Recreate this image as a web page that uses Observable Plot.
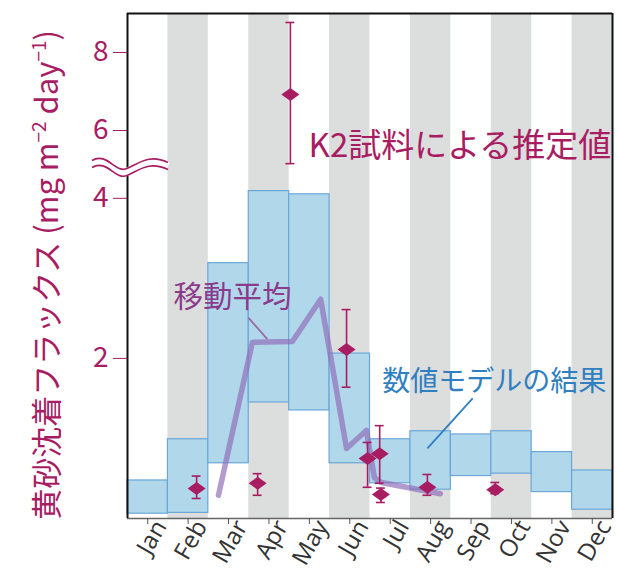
<!DOCTYPE html>
<html><head><meta charset="utf-8">
<script src="https://cdn.jsdelivr.net/npm/d3@7"></script>
<script src="https://cdn.jsdelivr.net/npm/@observablehq/plot@0.6"></script>
<style>body{margin:0;background:#fff;} #chart svg{display:block}</style>
</head><body><div id="chart"></div>
<script>
const months = ["Jan","Feb","Mar","Apr","May","Jun","Jul","Aug","Sep","Oct","Nov","Dec"];
const modelLow  = [0.06, 0.07, 0.69, 1.45, 1.35, 0.69, 0.44, 0.36, 0.53, 0.56, 0.33, 0.11];
const modelHigh = [0.475, 0.99, 3.19, 4.09, 4.05, 2.06, 0.99, 1.09, 1.05, 1.09, 0.83, 0.60];
const maX = [2.25, 3.09, 4.08, 4.78, 5.42, 5.91, 6.11, 6.28, 7.32, 7.74];
const maY = [0.29, 2.20, 2.21, 2.74, 0.875, 1.10, 0.51, 0.45, 0.35, 0.31];
const k2X  = [1.71, 3.22, 4.03, 5.42, 5.94, 6.24, 6.27, 7.42, 9.10];
const k2Y  = [0.375, 0.44, 6.92, 2.11, 0.75, 0.81, 0.30, 0.39, 0.36];
const k2Lo = [0.25, 0.29, 5.15, 1.64, 0.39, 0.44, 0.20, 0.29, 0.31];
const k2Hi = [0.53, 0.56, 8.77, 2.61, 0.95, 1.16, 0.38, 0.55, 0.45];
const yTicks = [2, 4, 6, 8];
const yLabel = "黄砂沈着フラックス";
const labels = [
  {text: "K2試料による推定値", x: 4.48, y: 5.59, color: "#a81c62", size: 33},
  {text: "移動平均", x: 1.14, y: 2.76, color: "#8b3a8c", size: 29.5},
  {text: "数値モデルの結果", x: 6.3, y: 1.71, color: "#2f7fc1", size: 28}
];
const leaders = [
  {x1: 2.99, y1: 2.51, x2: 3.46, y2: 2.24, color: "#9a6aa8"},
  {x1: 8.54, y1: 1.50, x2: 7.42, y2: 0.875, color: "#2f7fc1"}
];

const crimson = "#a81c62";
const monthIdx = months.map((m, i) => i);
const boxes = monthIdx.map(i => ({i, lo: modelLow[i], hi: modelHigh[i]}));
const stripes = monthIdx.filter(i => i % 2 === 1);
const ma = maX.map((x, i) => ({x, y: maY[i]}));
const k2 = k2X.map((x, i) => ({x, y: k2Y[i], lo: k2Lo[i], hi: k2Hi[i]}));
const centers = monthIdx.map(i => i + 0.5);
const capW = 0.11;

const wideDiamond = {draw(ctx) { const w = 9, h = 6.5; ctx.moveTo(-w, 0); ctx.lineTo(0, -h); ctx.lineTo(w, 0); ctx.lineTo(0, h); ctx.closePath(); }};

const plot = Plot.plot({
  width: 617, height: 571,
  marginLeft: 127, marginRight: 5, marginTop: 13, marginBottom: 53,
  style: {fontFamily: "'Noto Sans CJK JP', 'Noto Sans', sans-serif", background: "#fff"},
  x: {type: "linear", domain: [0, 12], axis: null},
  y: {type: "linear", domain: [0, 4.36, 5, 9], range: [518, 169, 169, 13], axis: null},
  marks: [
    Plot.rect(stripes, {x1: d => d, x2: d => d + 1, y1: 0, y2: 9, fill: "#dcdddd"}),
    Plot.rect(boxes, {x1: d => d.i, x2: d => d.i + 1, y1: "lo", y2: "hi", fill: "#b0d8ea", stroke: "#6ca6d9", strokeWidth: 1.2}),
    Plot.line(ma, {x: "x", y: "y", stroke: "#8f6bb8", strokeOpacity: 0.68, strokeWidth: 5.5}),
    Plot.ruleX(k2, {x: "x", y1: "lo", y2: "hi", stroke: crimson, strokeWidth: 1.6}),
    Plot.ruleY(k2, {y: "hi", x1: d => d.x - capW, x2: d => d.x + capW, stroke: crimson, strokeWidth: 1.6}),
    Plot.ruleY(k2, {y: "lo", x1: d => d.x - capW, x2: d => d.x + capW, stroke: crimson, strokeWidth: 1.6}),
    Plot.dot(k2, {x: "x", y: "y", symbol: wideDiamond, fill: crimson, stroke: "none"}),
    Plot.link(leaders, {x1: "x1", y1: "y1", x2: "x2", y2: "y2", stroke: d => d.color, strokeWidth: 1.8}),
    Plot.text(labels, {x: "x", y: "y", text: "text", fill: d => d.color, fontSize: d => d.size, textAnchor: "start", lineAnchor: "middle"}),
    Plot.ruleY([0], {stroke: "#666", strokeWidth: 1.5}),
    Plot.ruleY([9], {stroke: "#111", strokeWidth: 2}),
    Plot.ruleX([0], {stroke: "#111", strokeWidth: 2}),
    Plot.ruleX([12], {stroke: "#111", strokeWidth: 2}),
    Plot.axisY(yTicks, {anchor: "left", tickSize: 14, tickPadding: 5, fontSize: 28, color: crimson, tickFormat: d => String(d), label: null}),
    Plot.axisX(centers, {anchor: "bottom", tickSize: 6, stroke: "#555", tickFormat: () => "", label: null}),
    Plot.axisX(centers, {anchor: "bottom", tickSize: 0, tickRotate: -60, tickPadding: 4, dx: 13, fontSize: 24, fill: "#333", tickFormat: d => months[Math.floor(d)], label: null, fontFamily: "'Open Sans', 'Noto Sans', sans-serif"})
  ]
});

document.getElementById("chart").append(plot);

// axis break symbol and y-axis title
const svg = d3.select(plot);
const ys = plot.scale("y");
const xs = plot.scale("x");
const yb = ys.apply(4.7);
const xa = xs.apply(0);
const wave = `M${xa - 35},${yb - 5} C${xa - 20},${yb - 14} ${xa - 12},${yb + 8} ${xa},${yb + 3} S${xa + 22},${yb - 12} ${xa + 41},${yb - 3}`;
svg.append("path").attr("d", wave).attr("fill", "none").attr("stroke", "#fff").attr("stroke-width", 8);
svg.append("path").attr("d", wave).attr("fill", "none").attr("stroke", crimson).attr("stroke-width", 1.6).attr("transform", "translate(0,-3.5)");
svg.append("path").attr("d", wave).attr("fill", "none").attr("stroke", crimson).attr("stroke-width", 1.6).attr("transform", "translate(0,3.5)");

const t = svg.append("text")
  .attr("transform", `translate(58,30) rotate(-90)`)
  .attr("text-anchor", "end")
  .attr("fill", crimson)
  .attr("font-size", 31)
  .attr("font-family", "'Noto Sans CJK JP', 'Noto Sans', sans-serif");
t.append("tspan").text(yLabel + " (mg m");
t.append("tspan").attr("font-size", 19).attr("dy", -12).text("−2");
t.append("tspan").attr("dy", 12).text(" day");
t.append("tspan").attr("font-size", 19).attr("dy", -12).text("−1");
t.append("tspan").attr("dy", 12).text(")");
</script>
</body></html>
